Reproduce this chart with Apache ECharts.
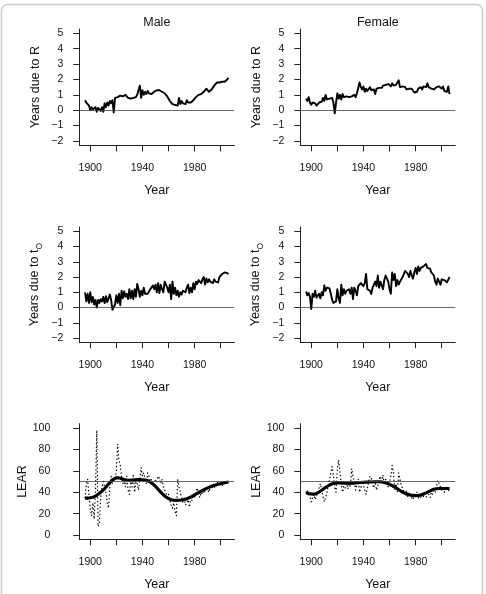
<!DOCTYPE html>
<html>
<head>
<meta charset="utf-8">
<title>Years due to R / t_O and LEAR</title>
<script src="https://cdn.jsdelivr.net/npm/echarts@6/dist/echarts.min.js"></script>
<style>
  html, body { margin: 0; padding: 0; background: #fff; }
  #chart { width: 486px; height: 594px; }
</style>
</head>
<body>
<div id="chart"></div>
<script>
// years 1896 .. 2006, one value per year
const firstYear = 1896;

const maleR = [
  0.65, 0.5, 0.4, 0.3, 0.0, 0.2, 0.05, -0.05, 0.2, -0.1,
  0.15, 0.1, -0.05, 0.2, -0.1, 0.45, 0.2, 0.5, 0.3, 0.6,
  0.45, 0.65, -0.15, 0.8, 0.7, 0.85, 0.9, 0.95, 0.85, 0.9,
  0.85, 1.0, 0.9, 0.8, 0.9, 0.75, 0.85, 0.8, 0.9, 0.85,
  1.0, 0.9, 1.6, 0.8, 1.3, 1.0, 1.2, 1.05, 1.25, 1.1,
  1.2, 1.05, 1.15, 1.2, 1.25, 1.3, 1.4, 1.3, 1.35, 1.2,
  1.25, 1.1, 1.0, 0.9, 0.75, 0.6, 0.5, 0.4, 0.5, 0.35,
  0.45, 0.3, 0.8, 0.4, 0.6, 0.45, 0.5, 0.4, 0.65, 0.5,
  0.55, 0.5, 0.6, 0.65, 0.75, 0.85, 0.9, 1.0, 0.95, 1.05,
  1.0, 1.2, 1.15, 1.4, 1.3, 1.2, 1.25, 1.35, 1.45, 1.6,
  1.7, 1.8, 1.75, 1.8, 1.7, 1.85, 1.9, 1.85, 1.95, 2.0,
  2.1
];

const femaleR = [
  0.75, 0.6, 0.85, 0.5, 0.35, 0.5, 0.4, 0.45, 0.3, 0.35,
  0.5, 0.6, 0.55, 0.8, 0.6, 1.0, 0.7, 0.8, 0.75, 0.85,
  0.8, 0.5, -0.2, 0.5, 1.1, 0.75, 1.0, 0.7, 1.05, 0.85,
  0.95, 0.9, 1.0, 0.85, 0.95, 0.9, 0.9, 1.0, 0.85, 1.1,
  1.2, 1.8, 1.5, 1.35, 1.55, 1.2, 1.4, 1.25, 1.35, 1.5,
  1.3, 1.25, 1.35, 1.05, 1.4, 1.35, 1.45, 1.5, 1.45, 1.6,
  1.7, 1.65, 1.6, 1.7, 1.65, 1.55, 1.75, 1.6, 1.5, 1.65,
  1.55, 1.95, 1.5, 1.4, 1.55, 1.45, 1.5, 1.35, 1.45, 1.4,
  1.5, 1.4, 1.35, 1.15, 1.25, 1.2, 1.4, 1.3, 1.5, 1.35,
  1.55, 1.45, 1.5, 1.75, 1.5, 1.6, 1.4, 1.45, 1.35, 1.4,
  1.5, 1.45, 1.55, 1.6, 1.4, 1.55, 1.25, 1.3, 1.2, 1.55,
  1.05
];

const maleTO = [
  1.0, 0.4, 0.9, 0.3, 1.0, 0.35, 0.7, 0.2, 0.5, 0.0,
  0.5, 0.3, 0.55, 0.4, 0.7, 0.3, 0.75, 0.35, 0.6, 0.85,
  0.5, -0.15, -0.05, 0.2, 0.8, 0.3, 0.9, 0.15, 1.1, 0.6,
  1.05, 0.7, 0.9, 0.55, 1.2, 0.6, 1.1, 0.55, 1.2, 0.7,
  1.55, 1.2, 0.7, 1.1, 0.8, 1.3, 0.9, 0.8, 0.9, 1.0,
  1.2, 1.1, 1.45, 1.2, 1.5, 1.0, 1.6, 0.95, 1.5, 1.2,
  1.0, 1.7, 1.75, 1.3, 1.0, 1.5, 0.55, 1.7, 0.9, 1.3,
  0.8, 1.1, 0.7, 1.0, 0.85, 1.1, 1.2, 1.0, 1.3, 1.5,
  0.95, 1.3, 1.0, 1.6, 1.2, 1.7, 1.55, 1.8, 1.7, 1.6,
  1.85, 2.0, 1.5, 1.9, 1.65, 1.85, 1.7, 1.8, 1.6, 1.85,
  1.7, 1.8, 1.65, 2.0, 1.9, 2.2, 2.1, 2.3, 2.2, 2.25,
  2.2
];

const femaleTO = [
  1.05, 0.8, 0.95, 0.7, -0.1, 0.9, 0.7, 1.1, 0.65, 0.75,
  0.9, 0.6, 1.0, 0.8, 1.45, 1.1, 1.3, 1.4, 1.25, 0.9,
  0.5, 0.3, 0.25, 0.4, 1.2, 0.6, 0.3, 1.5, 0.8, 1.2,
  0.9, 1.1, 1.0, 1.2, 0.9, 1.3, 0.55, 1.3, 1.1, 0.8,
  1.4, 1.5, 1.6, 1.5, 1.4, 1.6, 2.2, 1.2, 1.25, 1.1,
  0.9, 1.3, 1.5, 1.7, 1.4, 2.1, 1.3, 1.7, 1.6, 1.2,
  1.8, 2.1, 2.0, 1.7, 1.2, 0.9, 2.3, 1.8, 2.2, 1.4,
  1.8, 1.5, 1.7, 1.8, 2.0, 2.1, 2.4, 2.5, 2.2, 2.0,
  2.4, 2.1, 1.9, 2.3, 2.6, 2.2, 2.7, 2.4, 2.6, 2.5,
  2.7, 2.6, 2.85, 2.6, 2.5, 2.55, 2.3, 2.25, 2.1, 1.7,
  1.5, 1.9, 1.7, 1.5, 1.85, 1.75, 1.8, 1.7, 1.65, 1.7,
  2.0
];

// LEAR: yearly values (dotted) and smoothed curve (thick)
const maleLear = [
  35, 48, 52, 38, 25, 18, 30, 15, 40, 98,
  8, 12, 35, 45, 50, 45, 40, 30, 25, 45,
  55, 48, 50, 52, 60, 85, 70, 65, 55, 48,
  50, 45, 55, 42, 38, 50, 45, 57, 40, 50,
  48, 42, 52, 63, 55, 58, 52, 48, 58, 55,
  50, 52, 48, 45, 52, 50, 55, 53, 48, 52,
  45, 42, 40, 35, 38, 32, 28, 25, 30, 22,
  18, 52, 45, 40, 35, 30, 35, 28, 30, 33,
  26, 35, 32, 38, 35, 40, 44, 38, 35, 40,
  38, 42, 40, 45, 42, 40, 45, 43, 46, 47,
  44, 48, 50, 47, 49, 46, 48, 50, 48, 49,
  50
];

const maleLearSmooth = [
  34.5, 34.5, 34.5, 34.6, 34.8, 35.0, 35.3, 35.7, 36.3, 37.2,
  38.0, 38.9, 39.9, 41.0, 42.2, 43.5, 44.8, 46.1, 47.6, 49.0,
  50.3, 51.4, 52.3, 53.0, 53.5, 53.6, 53.4, 53.0, 52.6, 52.2,
  51.8, 51.5, 51.3, 51.2, 51.2, 51.3, 51.4, 51.5, 51.6, 51.7,
  51.8, 51.8, 51.8, 51.8, 51.7, 51.6, 51.4, 51.1, 50.7, 50.2,
  49.5, 48.7, 47.7, 46.6, 45.4, 44.1, 42.8, 41.4, 40.1, 38.8,
  37.6, 36.5, 35.5, 34.7, 34.0, 33.4, 33.0, 32.7, 32.5, 32.4,
  32.4, 32.4, 32.5, 32.6, 32.7, 32.9, 33.2, 33.5, 33.9, 34.4,
  34.9, 35.5, 36.1, 36.8, 37.5, 38.2, 38.9, 39.6, 40.3, 41.0,
  41.7, 42.3, 42.9, 43.5, 44.1, 44.6, 45.1, 45.6, 46.0, 46.4,
  46.8, 47.1, 47.4, 47.7, 48.0, 48.3, 48.5, 48.8, 49.0, 49.3,
  49.5
];

const femaleLear = [
  40, 42, 38, 36, 31, 35, 38, 33, 36, 40,
  44, 48, 42, 36, 31, 35, 40, 46, 52, 58,
  64, 56, 45, 40, 62, 70, 58, 48, 40, 46,
  44, 50, 43, 48, 45, 62, 55, 50, 42, 48,
  52, 40, 44, 50, 47, 42, 38, 44, 50, 55,
  53, 48, 44, 50, 42, 46, 52, 55, 50, 56,
  47, 52, 48, 45, 50, 55, 65, 58, 42, 48,
  40, 58, 52, 46, 44, 40, 38, 42, 36, 40,
  38, 35, 33, 38, 36, 40, 34, 38, 35, 39,
  36, 37, 35, 40, 38, 35, 40, 38, 42, 40,
  46, 51, 48, 45, 42, 44, 40, 45, 43, 41,
  44
];

const femaleLearSmooth = [
  39.5, 39.0, 38.7, 38.5, 38.3, 38.2, 38.2, 38.4, 38.8, 39.4,
  40.1, 40.9, 41.8, 42.7, 43.6, 44.5, 45.3, 46.0, 46.7, 47.3,
  47.8, 48.2, 48.5, 48.7, 48.8, 48.8, 48.7, 48.6, 48.5, 48.4,
  48.3, 48.3, 48.3, 48.3, 48.3, 48.4, 48.4, 48.5, 48.6, 48.7,
  48.8, 48.9, 49.0, 49.1, 49.2, 49.3, 49.4, 49.5, 49.5, 49.6,
  49.6, 49.7, 49.7, 49.7, 49.7, 49.7, 49.7, 49.7, 49.6, 49.4,
  49.1, 48.8, 48.4, 47.9, 47.4, 46.8, 46.2, 45.5, 44.8, 44.0,
  43.2, 42.4, 41.6, 40.8, 40.1, 39.4, 38.8, 38.3, 37.9, 37.6,
  37.3, 37.1, 37.0, 36.9, 36.8, 36.8, 36.9, 37.1, 37.4, 37.8,
  38.3, 38.8, 39.4, 40.0, 40.6, 41.2, 41.8, 42.3, 42.7, 43.0,
  43.2, 43.3, 43.4, 43.4, 43.4, 43.5, 43.5, 43.4, 43.4, 43.5,
  43.5
];

const yearTicks = [1900, 1920, 1940, 1960, 1980, 2000];
const yearLabels = [1900, 1940, 1980];
const yearsTicks = [-2, -1, 0, 1, 2, 3, 4, 5];
const learTicks = [0, 20, 40, 60, 80, 100];
const colTitles = ['Male', 'Female'];

const font = 'Liberation Sans, Arial, Helvetica, sans-serif';

function pairs(vals) {
  return vals.map((v, i) => [firstYear + i, v]);
}

// plot regions (px)
const colLeft = [79.3, 300.3];
const plotW = 155;
const rowTop = [29, 227, 423.7];
const rowH = [116.3, 115.3, 115.6];

const rows = [
  { name: 'Years due to R', min: -2.28, max: 5.28, ticks: yearsTicks, ref: 0, data: [maleR, femaleR], labelGap: [16, 16] },
  { name: '{a|Years due to t}{s|O}', min: -2.28, max: 5.28, ticks: yearsTicks, ref: 0, data: [maleTO, femaleTO], labelGap: [16, 16] },
  { name: 'LEAR', min: -4, max: 104, ticks: learTicks, ref: 50, data: [maleLear, femaleLear],
    smooth: [maleLearSmooth, femaleLearSmooth], labelGap: [29, 16] }
];

const grid = [], xAxis = [], yAxis = [], series = [], graphic = [];

rows.forEach((row, r) => {
  for (let c = 0; c < 2; c++) {
    const idx = grid.length;
    grid.push({ left: colLeft[c], top: rowTop[r], width: plotW, height: rowH[r] });
    xAxis.push({
      gridIndex: idx, type: 'value', min: 1891.6, max: 2010.4,
      axisLine: { show: true, onZero: false, lineStyle: { color: '#222', width: 1 } },
      axisTick: { show: true, length: 6, customValues: yearTicks, lineStyle: { color: '#222', width: 1 } },
      axisLabel: { customValues: yearLabels, margin: 17, fontSize: 10.5, color: '#111', fontFamily: font,
        formatter: v => String(v) },
      splitLine: { show: false },
      name: 'Year', nameLocation: 'middle', nameGap: 39,
      nameTextStyle: { fontSize: 12.5, color: '#111', fontFamily: font }
    });
    yAxis.push({
      gridIndex: idx, type: 'value', min: row.min, max: row.max,
      axisLine: { show: true, onZero: false, lineStyle: { color: '#222', width: 1 } },
      axisTick: { show: true, length: 6, customValues: row.ticks, lineStyle: { color: '#222', width: 1 } },
      axisLabel: { customValues: row.ticks, margin: row.labelGap[c], fontSize: 10.5, color: '#111', fontFamily: font,
        formatter: v => (v < 0 ? '\u2212' + Math.abs(v) : String(v)) },
      splitLine: { show: false },
      name: row.name, nameLocation: 'middle', nameGap: 37, nameRotate: 90,
      nameTextStyle: {
        fontSize: 12.5, color: '#111', fontFamily: font,
        rich: {
          a: { fontSize: 12.5, color: '#111', fontFamily: font, lineHeight: 14, verticalAlign: 'top' },
          s: { fontSize: 8.5, color: '#111', fontFamily: font, lineHeight: 9, verticalAlign: 'top', padding: [7, 0, 0, 0] }
        }
      }
    });
    const refLine = {
      silent: true, symbol: ['none', 'none'], label: { show: false },
      lineStyle: { color: '#444', width: 0.8, type: 'solid' },
      data: [{ yAxis: row.ref }]
    };
    if (row.smooth) {
      series.push({
        type: 'line', xAxisIndex: idx, yAxisIndex: idx, data: pairs(row.data[c]),
        showSymbol: false,
        lineStyle: { color: '#000', width: 1.3, type: [0.3, 3.4], cap: 'round', join: 'round' },
        markLine: refLine
      });
      series.push({
        type: 'line', xAxisIndex: idx, yAxisIndex: idx, data: pairs(row.smooth[c]),
        showSymbol: false, lineStyle: { color: '#000', width: 3.1 }
      });
    } else {
      series.push({
        type: 'line', xAxisIndex: idx, yAxisIndex: idx, data: pairs(row.data[c]),
        showSymbol: false, lineStyle: { color: '#000', width: 1.9, join: 'round' },
        markLine: refLine
      });
    }
  }
});

colTitles.forEach((t, c) => {
  graphic.push({
    type: 'text', x: colLeft[c] + plotW / 2, y: 22.5,
    style: { text: t, fontSize: 12.5, fill: '#111', fontFamily: font, textAlign: 'center', textVerticalAlign: 'middle' }
  });
});

// light frame around the figure
graphic.push({
  type: 'rect', z: -10,
  shape: { x: 1.5, y: 4.5, width: 481, height: 600, r: 6 },
  style: { fill: 'none', stroke: '#cccccc', lineWidth: 1.5 }
});

const chart = echarts.init(document.getElementById('chart'));
chart.setOption({
  animation: false,
  backgroundColor: '#fff',
  grid, xAxis, yAxis, series, graphic
});
</script>
</body>
</html>
